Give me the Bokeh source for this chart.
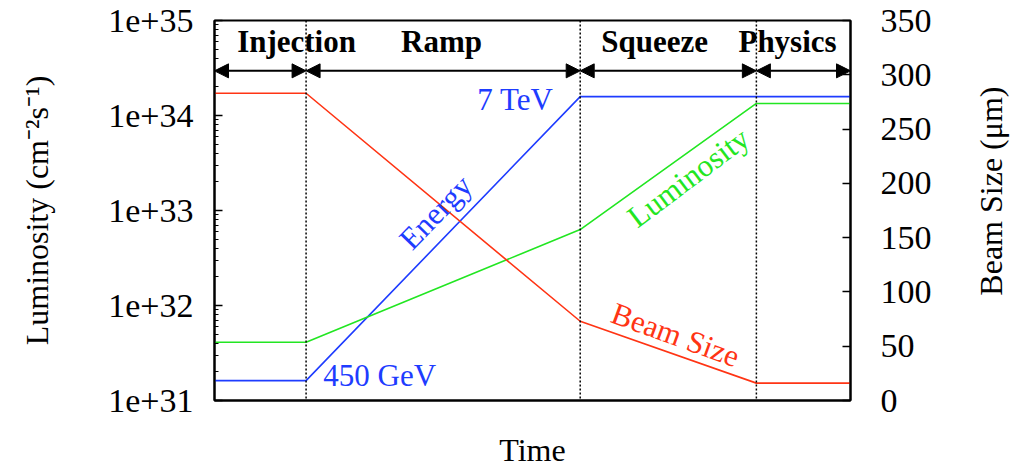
import math
from bokeh.plotting import figure
from bokeh.layouts import row
from bokeh.models import (Range1d, LinearAxis, LinearScale, FixedTicker, CustomJSTickFormatter,
                          Span, Arrow, NormalHead, Label)
from bokeh.embed import file_html
from bokeh.resources import INLINE
from bokeh.core.properties import value

# ---------------- data ----------------
phase_names = ["Injection", "Ramp", "Squeeze", "Physics"]
phase_bounds = [0, 14.4, 57.5, 85.2, 100]
phase_label_x = [12.9, 35.7, 69.2, 90.1]

time = [0, 14.4, 57.5, 85.2, 100]
luminosity = [4.1e31, 4.1e31, 6.3e32, 1.34e34, 1.34e34]
energy_curve = [1.62e31, 1.62e31, 1.58e34, 1.58e34, 1.58e34]
beam_size = [283, 283, 73, 16, 16]

left_ticks = [1e31, 1e32, 1e33, 1e34, 1e35]
left_tick_labels = ["1e+31", "1e+32", "1e+33", "1e+34", "1e+35"]
right_ticks = [0, 50, 100, 150, 200, 250, 300, 350]

RED = "#ff3414"
GREEN = "#22e622"
BLUE = "#1e3cff"
FONT = "Liberation Serif"

# ---------------- figure ----------------
p = figure(width=970, height=470, x_range=Range1d(0, 100),
           y_range=Range1d(1e31, 1e35), y_axis_type="log",
           output_backend="svg", toolbar_location=None, title=None,
           min_border_left=214, min_border_right=120,
           min_border_top=20, min_border_bottom=60)
p.extra_y_ranges = {"beam": Range1d(0, 350)}
p.extra_y_scales = {"beam": LinearScale()}
p.grid.visible = False
p.outline_line_color = "black"
p.outline_line_width = 2
p.background_fill_color = "white"
p.border_fill_color = "white"

# left axis
ly = p.yaxis[0]
minor = [float(k) * 10.0 ** e for e in range(31, 35) for k in range(2, 10)]
ly.ticker = FixedTicker(ticks=left_ticks, minor_ticks=minor)
ly.formatter = CustomJSTickFormatter(
    args=dict(tvals=left_ticks, tlabels=left_tick_labels),
    code="""
const i = tvals.findIndex(t => Math.abs(Math.log10(t) - Math.log10(tick)) < 1e-6);
return i >= 0 ? tlabels[i] : '';
""")
ly.axis_label = "Luminosity (cm\u207b\u00b2s\u207b\u00b9)"
ly.axis_label_text_font = FONT
ly.axis_label_text_font_style = "normal"
ly.axis_label_text_font_size = "32px"
ly.axis_label_text_color = "black"
ly.axis_label_standoff = 50
ly.major_label_text_font = FONT
ly.major_label_text_font_size = "34px"
ly.major_label_text_color = "black"
ly.major_label_standoff = 21
ly.major_tick_in = 8
ly.major_tick_out = 0
ly.minor_tick_in = 4
ly.minor_tick_out = 0
ly.axis_line_width = 2
ly.major_tick_line_width = 1.5
ly.minor_tick_line_width = 1

# bottom axis
bx = p.xaxis[0]
bx.ticker = FixedTicker(ticks=[])
bx.axis_label = "Time"
bx.axis_label_text_font = FONT
bx.axis_label_text_font_style = "normal"
bx.axis_label_text_font_size = "32px"
bx.axis_label_text_color = "black"
bx.axis_label_standoff = 31
bx.major_label_standoff = 0
bx.major_tick_in = 0
bx.major_tick_out = 0
bx.minor_tick_in = 0
bx.minor_tick_out = 0
bx.axis_line_width = 2

# right axis
ry = LinearAxis(y_range_name="beam", ticker=FixedTicker(ticks=right_ticks))
ry.major_label_text_font = FONT
ry.major_label_text_font_size = "34px"
ry.major_label_text_color = "black"
ry.major_label_standoff = 30
ry.major_tick_in = 8
ry.major_tick_out = 0
ry.minor_tick_line_color = None
ry.axis_line_width = 2
ry.major_tick_line_width = 1.5
p.add_layout(ry, "right")

# ---------------- phases ----------------
for b in phase_bounds[1:-1]:
    p.add_layout(Span(location=b, dimension="height", line_color="black",
                      line_dash="2 2", line_width=1.5))

arrow_y = 10 ** 34.47
for i in range(len(phase_names)):
    p.add_layout(Arrow(x_start=phase_bounds[i], y_start=arrow_y,
                       x_end=phase_bounds[i + 1], y_end=arrow_y,
                       line_width=2, line_color="black",
                       start=NormalHead(size=14, fill_color="black", line_color="black"),
                       end=NormalHead(size=14, fill_color="black", line_color="black")))

p.text(x=phase_label_x, y=[10 ** 34.774] * 4, text=phase_names,
       text_font=value(FONT), text_font_style="bold", text_font_size="31px",
       text_align="center", text_baseline="middle", text_color="black")

# ---------------- curves ----------------
p.line(time, energy_curve, line_color=BLUE, line_width=1.6)
p.line(time, luminosity, line_color=GREEN, line_width=1.6)
p.line(time, beam_size, y_range_name="beam", line_color=RED, line_width=1.6)

# ---------------- curve labels ----------------
def lab(x, y, text, color, angle=0.0, align="center"):
    p.add_layout(Label(x=x, y=y, text=text, angle=angle, text_align=align,
                       text_baseline="middle", text_font=FONT,
                       text_font_size="31px", text_color=color))

lab(53.3, 10 ** 34.166, "7 TeV", BLUE, align="right")
lab(17.1, 10 ** 31.262, "450 GeV", BLUE, align="left")
lab(34.75, 10 ** 32.981, "Energy", BLUE, angle=math.radians(46))
lab(74.5, 10 ** 33.348, "Luminosity", GREEN, angle=math.radians(37))
lab(72.5, 10 ** 31.692, "Beam Size", RED, angle=math.radians(-20))

# ---------------- right-hand axis title (reads bottom-to-top) ----------------
p2 = figure(width=41, height=470, x_range=Range1d(0, 41), y_range=Range1d(0, 470),
            output_backend="svg", toolbar_location=None, title=None,
            min_border=0, min_border_left=0, min_border_right=0,
            min_border_top=0, min_border_bottom=0)
p2.axis.visible = False
p2.grid.visible = False
p2.outline_line_color = None
p2.background_fill_color = "white"
p2.border_fill_color = "white"
p2.add_layout(Label(x=20.5, y=259, text="Beam Size (\u03bcm)", angle=math.pi / 2,
                    text_align="center", text_baseline="middle", text_font=FONT,
                    text_font_size="32px", text_color="black"))

layout = row(p, p2, spacing=0)
open("out.html", "w").write(file_html(layout, INLINE))
